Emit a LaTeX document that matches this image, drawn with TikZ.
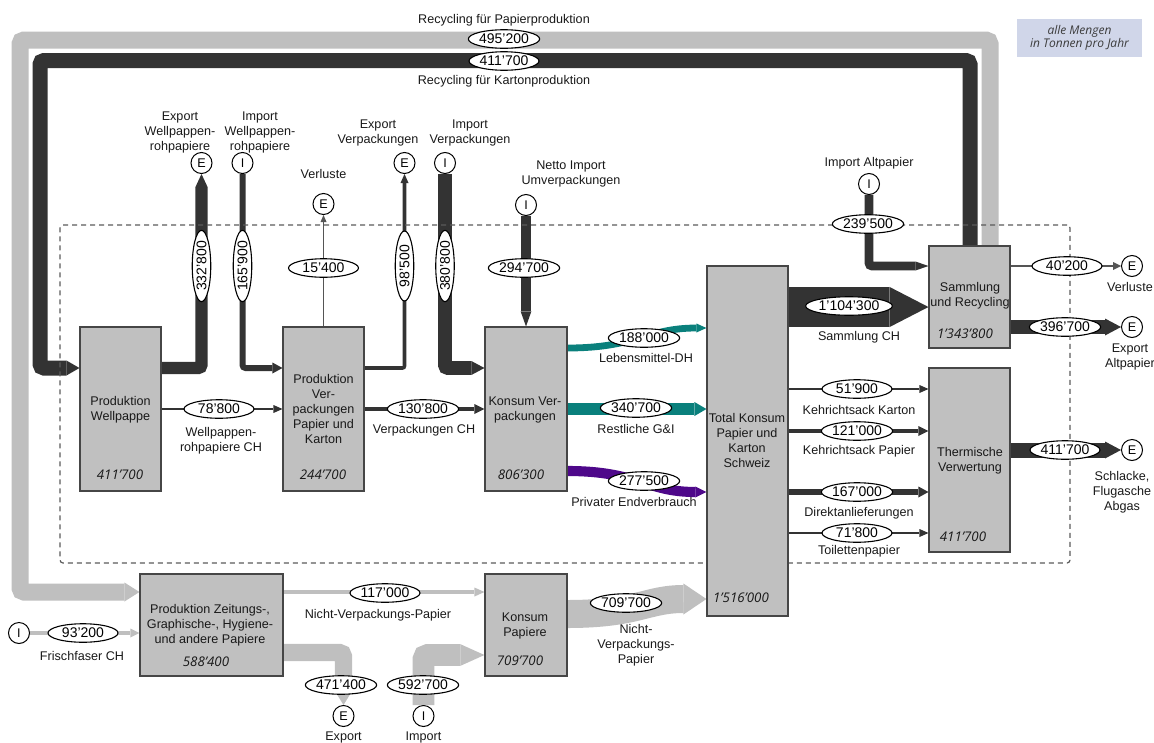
\documentclass[tikz,border=0pt]{standalone}
\usepackage{fontspec}
\setmainfont{Liberation Sans}
\newfontfamily\italicnums{Open Sans}
\usetikzlibrary{arrows.meta,shapes.geometric}

\definecolor{flowdark}{RGB}{51,51,51}
\definecolor{flowgray}{RGB}{191,191,191}
\definecolor{flowteal}{RGB}{10,128,124}
\definecolor{flowpurple}{RGB}{78,8,138}
\definecolor{boxfill}{RGB}{192,192,192}
\definecolor{boxline}{RGB}{70,70,70}
\definecolor{thinline}{RGB}{85,85,85}
\definecolor{dashgray}{RGB}{90,90,90}
\definecolor{txt}{RGB}{25,25,25}
\definecolor{notefill}{RGB}{208,214,233}
\definecolor{notetext}{RGB}{60,60,60}

\pgfdeclarelayer{flows}
\pgfdeclarelayer{frame}
\pgfsetlayers{flows,frame,main}

\newcommand\lblfont{\fontsize{12.6}{15}\selectfont}
\newcommand\valfont{\fontsize{14}{15}\selectfont}
\newcommand\sumfont{\italicnums\itshape\fontsize{13.3}{15}\selectfont}
\newcommand\notefont{\italicnums\itshape\fontsize{12}{13.5}\selectfont}

\tikzset{
  stock/.style={draw=boxline, fill=boxfill, line width=1.1pt, inner sep=0pt},
  lbl/.style={font=\lblfont, text=txt, align=center, inner sep=0pt},
  sumv/.style={font=\sumfont, text=txt, inner sep=0pt},
  val/.style={ellipse, draw=black, fill=white, line width=1.1pt, font=\valfont,
              text=black, inner xsep=0.3pt, inner ysep=0pt,
              minimum height=18.5pt, minimum width=70pt},
  port/.style={circle, draw=black, fill=white, line width=1pt,
               minimum size=21pt, inner sep=0pt, font=\lblfont},
  fband/.style={line width=#1pt},
  flowtip/.style 2 args={-{Triangle[length=#1pt, width=#2pt, line width=0pt]}},
  sysline/.style={draw=dashgray, dash pattern=on 5pt off 4pt, line width=1.2pt,
                  rounded corners=3pt},
}

\begin{document}
\begin{tikzpicture}[x=1pt,y=-1pt]
\useasboundingbox (0,0) rectangle (1154,742);

% ---------- stocks (processes) ----------
\node[stock, minimum width=81pt,  minimum height=164pt] (wp) at (120.5,409) {};
\node[stock, minimum width=81pt,  minimum height=164pt] (pv) at (323.5,409) {};
\node[stock, minimum width=82pt,  minimum height=164pt] (kv) at (526,409) {};
\node[stock, minimum width=81pt,  minimum height=350pt] (tk) at (747.5,441) {};
\node[stock, minimum width=81pt,  minimum height=102pt] (sr) at (969.5,297) {};
\node[stock, minimum width=81pt,  minimum height=184pt] (tv) at (969.5,460) {};
\node[stock, minimum width=143pt, minimum height=102pt] (pz) at (211.5,625) {};
\node[stock, minimum width=82pt,  minimum height=102pt] (kp) at (526,625) {};

% ---------- import / export ports ----------
\node[port] (eWP) at (201.5,163) {E};
\node[port] (iWP) at (242.5,163) {I};
\node[port] (eVL) at (323.5,204) {E};
\node[port] (eVP) at (404.5,163) {E};
\node[port] (iVP) at (445,163) {I};
\node[port] (iUV) at (526,205) {I};
\node[port] (iAP) at (869,184) {I};
\node[port] (eSV) at (1132,266) {E};
\node[port] (eEA) at (1132,327) {E};
\node[port] (eSF) at (1132,450) {E};
\node[port] (iFF) at (19,633) {I};
\node[port] (eEX) at (343.5,716) {E};
\node[port] (iIM) at (423.5,716) {I};

% ---------- routing rows and corners ----------
\coordinate (gTR) at (990,40);
\coordinate (gBL) at (20,592);
\coordinate (dTR) at (970,60.5);
\coordinate (dBL) at (40,368);
\coordinate (rAP) at (0,266);
\coordinate (rSC) at (0,307);
\coordinate (rEA) at (0,327);
\coordinate (rTV) at (0,450);
\coordinate (rKK) at (0,389);
\coordinate (rKP) at (0,431);
\coordinate (rDA) at (0,492);
\coordinate (rTP) at (0,533);
\coordinate (rLa) at (0,348);
\coordinate (rLb) at (0,328);
\coordinate (rPa) at (0,471);
\coordinate (rPb) at (0,492);
\coordinate (rNa) at (0,614);
\coordinate (rNb) at (0,599);
\coordinate (rEX) at (0,652.5);
\coordinate (rIM) at (0,655);

% ---------- flows ----------
\begin{pgfonlayer}{flows}
% recycling loops
\draw[flowgray, fband=17, rounded corners=4pt, flowtip={15}{19}]
  (sr.north -| gTR) -- (gTR) -| (gBL) -- (pz.west |- gBL);
\draw[flowdark, fband=15, rounded corners=4pt, flowtip={13}{15}]
  (sr.north -| dTR) -- (dTR) -| (dBL) -- (wp.west |- dBL);

% packaging chain
\draw[flowdark, fband=12.1, rounded corners=3pt, flowtip={13}{12.1}]
  (wp.east |- dBL) -| (eWP.south);
\draw[flowdark, fband=6, rounded corners=3pt, flowtip={10}{11}]
  (iWP.south) |- (pv.west |- dBL);
\draw[thinline, fband=0.9, flowtip={7}{6}] (pv.north) -- (eVL.south);
\draw[flowdark, fband=3.6, rounded corners=2pt, flowtip={9}{8}]
  (pv.east |- dBL) -| (eVP.south);
\draw[flowdark, fband=13.9, rounded corners=3pt, flowtip={13}{13.9}]
  (iVP.south) |- (kv.west |- dBL);
\draw[flowdark, fband=10.7, flowtip={15}{10.7}] (iUV.south) -- (kv.north);
\draw[flowdark, fband=1.5, flowtip={9}{8}] (wp.east) -- (pv.west);
\draw[flowdark, fband=4.8, flowtip={10}{10}] (pv.east) -- (kv.west);

% consumption of packaging
\draw[flowteal, fband=6.8, flowtip={10}{9}]
  (kv.east |- rLa) .. controls +(70,0) and +(-60,0) .. (tk.west |- rLb);
\draw[flowteal, fband=12.4, flowtip={12}{14}] (kv.east) -- (kv.east -| tk.west);
\draw[flowpurple, fband=10.1, flowtip={11}{11}]
  (kv.east |- rPa) .. controls +(70,0) and +(-60,0) .. (tk.west |- rPb);

% disposal paths
\draw[flowdark, fband=40.2, flowtip={39}{40.2}] (tk.east |- rSC) -- (sr.west |- rSC);
\draw[flowdark, fband=1.9, flowtip={9}{8}] (tk.east |- rKK) -- (tv.west |- rKK);
\draw[flowdark, fband=4.4, flowtip={10}{10}] (tk.east |- rKP) -- (tv.west |- rKP);
\draw[flowdark, fband=6.1, flowtip={10}{11}] (tk.east |- rDA) -- (tv.west |- rDA);
\draw[flowdark, fband=2.6, flowtip={9}{8}] (tk.east |- rTP) -- (tv.west |- rTP);
\draw[flowdark, fband=8.7, rounded corners=3pt, flowtip={13}{9}]
  (iAP.south) |- (sr.west |- rAP);
\draw[thinline, fband=1.5, flowtip={8}{8}] (sr.east |- rAP) -- (eSV.west);
\draw[flowdark, fband=14.5, flowtip={16}{17}] (sr.east |- rEA) -- (eEA.west);
\draw[flowdark, fband=15, flowtip={16}{17}] (tv.east |- rTV) -- (eSF.west);

% paper chain
\draw[flowgray, fband=4.3, flowtip={10}{9}] (pz.east |- gBL) -- (kp.west |- gBL);
\draw[flowgray, fband=3.4, flowtip={9}{9}] (iFF.east) -- (pz.west |- iFF);
\draw[flowgray, fband=17.2, rounded corners=4pt, flowtip={14}{17.2}]
  (pz.east |- rEX) -| (eEX.north);
\draw[flowgray, fband=21.6, rounded corners=4pt, flowtip={24}{21.6}]
  (iIM.north) |- (kp.west |- rIM);
\draw[flowgray, fband=28, flowtip={23}{31}]
  (kp.east |- rNa) .. controls +(70,0) and +(-60,0) .. (tk.west |- rNb);
\end{pgfonlayer}

% ---------- system boundary ----------
\begin{pgfonlayer}{frame}
\node[sysline, minimum width=1010pt, minimum height=338pt, inner sep=0pt] (sys) at (565,394) {};
\end{pgfonlayer}

% ---------- flow values ----------
\node[val] (v495) at (504,39) {495’200};
\node[val] (v411a) at (504,61) {411’700};
\node[val, rotate=90] (v332) at (201.5,266) {332’800};
\node[val, rotate=90] (v165) at (242.5,266) {165’900};
\node[val] (v154) at (323.5,268) {15’400};
\node[val, rotate=90] (v985) at (404.5,266) {98’500};
\node[val, rotate=90] (v380) at (445,266) {380’800};
\node[val] (v294) at (524,268) {294’700};
\node[val] (v239) at (868,224) {239’500};
\node[val] (v788) at (219,409) {78’800};
\node[val] (v130) at (423,409) {130’800};
\node[val] (v188) at (644,338) {188’000};
\node[val] (v340) at (636,408) {340’700};
\node[val] (v277) at (644,481) {277’500};
\node[val] (v1104) at (849,306) {1’104’300};
\node[val] (v519) at (857,389) {51’900};
\node[val] (v121) at (857,431) {121’000};
\node[val] (v167) at (857,492) {167’000};
\node[val] (v718) at (857,533) {71’800};
\node[val] (v402) at (1067,266) {40’200};
\node[val] (v396) at (1065,327) {396’700};
\node[val] (v411b) at (1065,450) {411’700};
\node[val] (v709) at (626,603) {709’700};
\node[val] (v117) at (385,593) {117’000};
\node[val] (v932) at (83,633) {93’200};
\node[val] (v471) at (341,685) {471’400};
\node[val] (v592) at (423,685) {592’700};

% ---------- stock texts ----------
\node[lbl] (wpT) at (120.5,409.5) {Produktion\\Wellpappe};
\node[sumv] (wpV) at (120,475) {411’700};
\node[lbl] (pvT) at (323.5,409) {Produktion\\Ver-\\packungen\\Papier und\\Karton};
\node[sumv] (pvV) at (323,475) {244’700};
\node[lbl] (kvT) at (525,409.5) {Konsum Ver-\\packungen};
\node[sumv] (kvV) at (521,475) {806’300};
\node[lbl] (tkT) at (747,440.5) {Total Konsum\\Papier und\\Karton\\Schweiz};
\node[sumv] (tkV) at (741,598) {1’516’000};
\node[lbl] (srT) at (970,296) {Sammlung\\und Recycling};
\node[sumv] (srV) at (965,334) {1’343’800};
\node[lbl] (tvT) at (970,460.5) {Thermische\\Verwertung};
\node[sumv] (tvV) at (963,537) {411’700};
\node[lbl] (pzT) at (210,625) {Produktion Zeitungs-,\\Graphische-, Hygiene-\\und andere Papiere};
\node[sumv] (pzV) at (206,662) {588’400};
\node[lbl] (kpT) at (525,625.5) {Konsum\\Papiere};
\node[sumv] (kpV) at (520,661) {709’700};

% ---------- flow labels ----------
\node[lbl] (tRP) at (504,20) {Recycling für Papierproduktion};
\node[lbl] (tRK) at (504,81) {Recycling für Kartonproduktion};
\node[lbl] (tEW) at (180,132) {Export\\Wellpappen-\\rohpapiere};
\node[lbl] (tIW) at (260,132) {Import\\Wellpappen-\\rohpapiere};
\node[lbl] (tVL) at (323.5,174) {Verluste};
\node[lbl] (tEV) at (378,132.5) {Export\\Verpackungen};
\node[lbl] (tIV) at (470,132.5) {Import\\Verpackungen};
\node[lbl] (tNI) at (571,173.5) {Netto Import\\Umverpackungen};
\node[lbl] (tIA) at (869,163) {Import Altpapier};
\node[lbl] (tWR) at (221,441) {Wellpappen-\\rohpapiere CH};
\node[lbl] (tVC) at (424,430) {Verpackungen CH};
\node[lbl] (tLD) at (646,358) {Lebensmittel-DH};
\node[lbl] (tRG) at (636,429) {Restliche G\&I};
\node[lbl] (tPE) at (634,502) {Privater Endverbrauch};
\node[lbl] (tSC) at (859,337) {Sammlung CH};
\node[lbl] (tKK) at (859,410) {Kehrichtsack Karton};
\node[lbl] (tKP) at (859,451) {Kehrichtsack Papier};
\node[lbl] (tDA) at (859,513) {Direktanlieferungen};
\node[lbl] (tTP) at (859,551) {Toilettenpapier};
\node[lbl] (tSV) at (1130,287) {Verluste};
\node[lbl] (tEA) at (1130,356.5) {Export\\Altpapier};
\node[lbl] (tSF) at (1122,492) {Schlacke,\\Flugasche\\Abgas};
\node[lbl] (tNV) at (378,615) {Nicht-Verpackungs-Papier};
\node[lbl] (tFF) at (82,656) {Frischfaser CH};
\node[lbl] (tNP) at (636,645) {Nicht-\\Verpackungs-\\Papier};
\node[lbl] (tEX) at (343.5,737) {Export};
\node[lbl] (tIM) at (423.5,737) {Import};

% ---------- units note ----------
\node[fill=notefill, minimum width=125pt, minimum height=38pt, align=center,
      font=\notefont, text=notetext, inner sep=0pt] (note) at (1079.5,38)
      {alle Mengen\\in Tonnen pro Jahr};
\end{tikzpicture}
\end{document}
